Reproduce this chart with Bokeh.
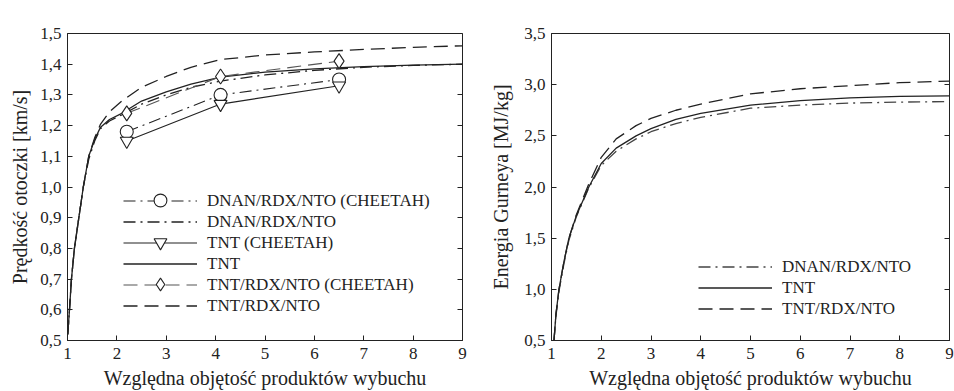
from bokeh.plotting import figure
from bokeh.layouts import row
from bokeh.models import Range1d, FixedTicker, LinearAxis, Legend, LegendItem, CustomJSTickFormatter
from bokeh.embed import file_html
from bokeh.resources import INLINE

# ---------------- data: left panel (velocity) ----------------
vel_x = [1.005, 1.04, 1.08, 1.14, 1.23, 1.32, 1.43, 1.55, 1.67, 1.85, 2.1, 2.5, 3.0, 3.5, 4.1, 5.0, 6.0, 7.0, 8.0, 9.0]
vel_tnt = [0.52, 0.60, 0.70, 0.80, 0.90, 1.00, 1.10, 1.155, 1.195, 1.22, 1.24, 1.28, 1.31, 1.335, 1.358, 1.374, 1.385, 1.392, 1.397, 1.40]
vel_trn = [0.52, 0.60, 0.70, 0.80, 0.90, 1.00, 1.10, 1.16, 1.205, 1.245, 1.28, 1.325, 1.36, 1.39, 1.415, 1.43, 1.44, 1.448, 1.455, 1.46]
vel_dnan = [0.52, 0.60, 0.70, 0.80, 0.90, 1.00, 1.09, 1.15, 1.19, 1.215, 1.235, 1.27, 1.30, 1.325, 1.345, 1.365, 1.38, 1.39, 1.396, 1.40]

cheetah_x = [2.2, 4.1, 6.5]
cheetah_dnan = [1.18, 1.30, 1.35]
cheetah_tnt = [1.15, 1.27, 1.33]
cheetah_trn = [1.24, 1.36, 1.41]

# ---------------- data: right panel (Gurney energy) ----------------
en_x = [1.05, 1.09, 1.15, 1.25, 1.35, 1.5, 1.75, 2.0, 2.3, 2.7, 3.0, 3.5, 4.0, 5.0, 6.0, 7.0, 8.0, 9.0]
en_tnt = [0.5, 0.76, 1.0, 1.27, 1.5, 1.72, 2.0, 2.23, 2.38, 2.5, 2.57, 2.66, 2.72, 2.80, 2.845, 2.87, 2.885, 2.89]
en_trn = [0.5, 0.76, 1.0, 1.27, 1.5, 1.73, 2.03, 2.29, 2.47, 2.6, 2.67, 2.75, 2.81, 2.91, 2.96, 2.99, 3.02, 3.035]
en_dnan = [0.5, 0.74, 0.98, 1.25, 1.48, 1.71, 1.99, 2.21, 2.35, 2.47, 2.54, 2.62, 2.68, 2.77, 2.80, 2.82, 2.83, 2.835]

x_ticks = [1, 2, 3, 4, 5, 6, 7, 8, 9]
vel_ticks = [0.5, 0.6, 0.7, 0.8, 0.9, 1.0, 1.1, 1.2, 1.3, 1.4, 1.5]
en_ticks = [0.5, 1.0, 1.5, 2.0, 2.5, 3.0, 3.5]

x_title = "Względna objętość produktów wybuchu"
vel_title = "Prędkość otoczki [km/s]"
en_title = "Energia Gurneya [MJ/kg]"

FONT = "'Liberation Serif', 'DejaVu Serif', serif"
INK = "#222222"
DASH = "14 7"
DASHDOT = "12 5 2 5"


def make_fig(width, bl, br, bt, bb, y0, y1, yticks, ytitle, ystandoff):
    p = figure(width=width, height=391, x_range=Range1d(1, 9), y_range=Range1d(y0, y1),
               output_backend="svg", toolbar_location=None,
               min_border_left=bl, min_border_right=br, min_border_top=bt, min_border_bottom=bb)
    p.xgrid.visible = False
    p.ygrid.visible = False
    p.outline_line_color = INK
    p.outline_line_width = 1
    p.background_fill_color = "white"
    p.border_fill_color = "white"
    fmt = CustomJSTickFormatter(code="return tick.toFixed(1).replace('.', ',');")
    p.xaxis.ticker = FixedTicker(ticks=x_ticks)
    p.yaxis.ticker = FixedTicker(ticks=yticks)
    p.yaxis.formatter = fmt
    p.xaxis.axis_label = x_title
    p.yaxis.axis_label = ytitle
    for ax in (p.xaxis[0], p.yaxis[0]):
        ax.axis_line_color = INK
        ax.major_tick_line_color = INK
        ax.major_tick_in = 5
        ax.major_tick_out = 0
        ax.minor_tick_in = 0
        ax.minor_tick_out = 0
        ax.major_label_text_font = FONT
        ax.major_label_text_font_size = "17px"
        ax.major_label_text_color = INK
        ax.axis_label_text_font = FONT
        ax.axis_label_text_font_size = "20px"
        ax.axis_label_text_font_style = "normal"
        ax.axis_label_text_color = INK
    p.xaxis.major_label_standoff = 7
    p.xaxis.axis_label_standoff = 5
    p.yaxis.major_label_standoff = 6
    p.yaxis.axis_label_standoff = ystandoff
    rax = LinearAxis(ticker=FixedTicker(ticks=yticks), major_label_text_color=None,
                     axis_line_color=None, major_tick_in=5, major_tick_out=0,
                     minor_tick_in=0, minor_tick_out=0, major_label_standoff=0,
                     major_tick_line_color=INK)
    p.add_layout(rax, "right")
    return p


def style_legend(lg, gh):
    lg.border_line_color = None
    lg.background_fill_alpha = 0
    lg.padding = 0
    lg.margin = 0
    lg.spacing = 0
    lg.glyph_width = 74
    lg.glyph_height = gh
    lg.label_height = gh
    lg.label_standoff = 10
    lg.label_text_font = FONT
    lg.label_text_font_size = "17px"
    lg.label_text_color = INK


# ---------------- left panel ----------------
p1 = make_fig(470, 67, 8, 19, 51, 0.5, 1.5, vel_ticks, vel_title, 6)

lw = 1.3
r_dc_l = p1.line(cheetah_x, cheetah_dnan, line_color=INK, line_width=1.1, line_dash=DASHDOT)
r_dc_m = p1.scatter(cheetah_x, cheetah_dnan, marker="circle", size=13, fill_color="white", line_color=INK, line_width=1.1)
r_d = p1.line(vel_x, vel_dnan, line_color=INK, line_width=lw, line_dash=DASHDOT)
r_tc_l = p1.line(cheetah_x, cheetah_tnt, line_color=INK, line_width=1.1)
r_tc_m = p1.scatter(cheetah_x, cheetah_tnt, marker="inverted_triangle", size=13, fill_color="white", line_color=INK, line_width=1.1)
r_t = p1.line(vel_x, vel_tnt, line_color=INK, line_width=lw)
r_rc_l = p1.line(cheetah_x, cheetah_trn, line_color="#555555", line_width=1.1, line_dash=DASH)
r_rc_m = p1.scatter(cheetah_x, cheetah_trn, marker="diamond", size=15, fill_color="white", line_color=INK, line_width=1.1)
r_r = p1.line(vel_x, vel_trn, line_color=INK, line_width=lw, line_dash=DASH)

leg1 = Legend(items=[
    LegendItem(label="DNAN/RDX/NTO (CHEETAH)", renderers=[r_dc_l]),
    LegendItem(label="DNAN/RDX/NTO", renderers=[r_d]),
    LegendItem(label="TNT (CHEETAH)", renderers=[r_tc_l]),
    LegendItem(label="TNT", renderers=[r_t]),
    LegendItem(label="TNT/RDX/NTO (CHEETAH)", renderers=[r_rc_l]),
    LegendItem(label="TNT/RDX/NTO", renderers=[r_r]),
], location=(56, 24))
style_legend(leg1, 21)
p1.add_layout(leg1)

# larger marker symbols drawn over the legend lines (one per CHEETAH row)
for rend, yloc in ((r_dc_m, 124), (r_tc_m, 82), (r_rc_m, 40)):
    mk = Legend(items=[LegendItem(label="", renderers=[rend])], location=(56, yloc))
    style_legend(mk, 32)
    mk.label_standoff = 0
    mk.label_text_color = None
    p1.add_layout(mk)

# ---------------- right panel ----------------
p2 = make_fig(484, 81, 5, 33, 51, 0.5, 3.5, en_ticks, en_title, 9)

e_d = p2.line(en_x, en_dnan, line_color="#444444", line_width=lw, line_dash=DASHDOT)
e_t = p2.line(en_x, en_tnt, line_color=INK, line_width=lw)
e_r = p2.line(en_x, en_trn, line_color=INK, line_width=lw, line_dash=DASH)

leg2 = Legend(items=[
    LegendItem(label="DNAN/RDX/NTO", renderers=[e_d]),
    LegendItem(label="TNT", renderers=[e_t]),
    LegendItem(label="TNT/RDX/NTO", renderers=[e_r]),
], location=(147, 21))
style_legend(leg2, 21)
p2.add_layout(leg2)

layout = row(p1, p2)
open("out.html", "w").write(file_html(layout, INLINE))
